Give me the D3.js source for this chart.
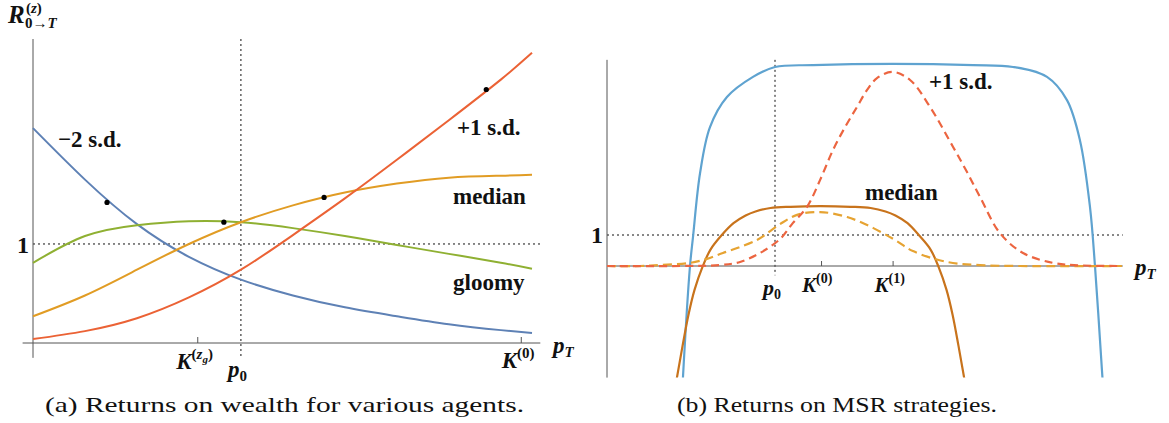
<!DOCTYPE html>
<html><head><meta charset="utf-8">
<script src="https://cdn.jsdelivr.net/npm/d3@7"></script>
<style>
body{margin:0;background:#fff;}
svg{display:block;}
</style></head>
<body>
<svg id="chart" width="1169" height="423"></svg>
<script>
// ---------- Data: panel (a) ----------
const pA = [0, 0.25, 0.5, 0.75, 1.0, 1.25, 1.5, 1.75, 2.0, 2.25, 2.4];
const minus2sd = [2.17, 1.65, 1.20, 0.87, 0.64, 0.48, 0.36, 0.27, 0.19, 0.13, 0.10];
const gloomy   = [0.81, 1.08, 1.19, 1.23, 1.22, 1.16, 1.08, 0.99, 0.90, 0.81, 0.75];
const medianA  = [0.27, 0.48, 0.74, 1.00, 1.22, 1.39, 1.52, 1.61, 1.67, 1.69, 1.70];
const plus1sd  = [0.04, 0.12, 0.25, 0.46, 0.74, 1.09, 1.46, 1.85, 2.25, 2.66, 2.93];
const dotsX = [0.356, 0.918, 1.40, 2.18];
const dotsY = [1.42, 1.22, 1.47, 2.56];
const ticksA = [0.79, 1.0, 2.346];          // K^(zg), p0, K^(0)

// ---------- Data: panel (b) ----------
const blueX  = [0.446, 0.452, 0.494, 0.512, 0.554, 0.613, 0.714, 0.869, 1.0, 1.226, 1.70, 2.18, 2.417, 2.619, 2.738, 2.815, 2.875, 2.905, 2.946, 2.958];
const blueY  = [-4.3, -3.61, 0, 0.94, 3.0, 4.48, 5.45, 6.10, 6.42, 6.48, 6.52, 6.48, 6.42, 6.10, 5.35, 4.06, 1.90, -0.03, -3.35, -4.3];
const brownX = [0.378, 0.414, 0.45, 0.485, 0.521, 0.569, 0.616, 0.682, 0.753, 0.825, 0.884, 0.973, 1.092, 1.271, 1.45, 1.569, 1.658, 1.717, 1.789, 1.857, 1.926, 1.973, 2.021, 2.057, 2.092, 2.128, 2.164];
const brownY = [-4.87, -3.67, -2.57, -1.57, -0.77, -0.02, 0.53, 0.99, 1.38, 1.63, 1.76, 1.87, 1.91, 1.93, 1.91, 1.87, 1.76, 1.63, 1.38, 0.99, 0.53, -0.02, -0.77, -1.57, -2.57, -3.67, -4.87];
const orangeX = [0, 0.196, 0.315, 0.494, 0.595, 0.69, 0.792, 0.893, 0.94, 1.03, 1.131, 1.268, 1.429, 1.583, 1.714, 1.821, 2.024, 2.22, 2.458, 3.065];
const orangeY = [0, 0, 0.03, 0.10, 0.23, 0.42, 0.61, 0.84, 1.0, 1.35, 1.65, 1.74, 1.58, 1.23, 0.84, 0.48, 0.13, 0.03, 0, 0];
const redX = [0, 0.435, 0.673, 0.792, 0.911, 1.03, 1.107, 1.19, 1.268, 1.345, 1.417, 1.488, 1.548, 1.607, 1.70, 1.804, 1.923, 2.06, 2.143, 2.22, 2.339, 2.476, 2.655, 2.815, 3.065];
const redY = [0, 0, 0.03, 0.13, 0.42, 0.87, 1.39, 1.90, 2.77, 3.74, 4.48, 5.13, 5.68, 6.06, 6.26, 6.0, 5.13, 3.84, 3.03, 2.23, 1.06, 0.42, 0.10, 0.02, 0];
const ticksB = [1.0, 1.274, 1.70];          // p0, K^(0), K^(1)

const svg = d3.select("#chart");
const AX = "#555";
const SERIF = "Liberation Serif";

function rich(g, x, y, parts, opts={}) {
  const t = g.append("text").attr("x", x).attr("y", y)
    .style("font-family", SERIF)
    .attr("text-anchor", opts.anchor || "start")
    .attr("font-weight", "bold").attr("fill", "#111");
  let cur = 0;
  parts.forEach(p => {
    t.append("tspan").text(p.t)
      .style("font-family", SERIF)
      .attr("font-size", p.size || 22)
      .attr("font-style", p.italic ? "italic" : "normal")
      .attr("dy", (p.shift || 0) - cur);
    cur = p.shift || 0;
  });
  return t;
}

// ================= Panel (a) =================
const xL = d3.scaleLinear().domain([0, 2.4]).range([33, 532]);
const yL = d3.scaleLinear().domain([0, 3.07]).range([343, 39]);
const gA = svg.append("g");

gA.append("line").attr("x1", xL(0)).attr("x2", xL(2.44)).attr("y1", yL(1)).attr("y2", yL(1))
  .attr("stroke", "#111").attr("stroke-width", 1).attr("stroke-dasharray", "2,3");
gA.append("line").attr("x1", xL(ticksA[1])).attr("x2", xL(ticksA[1])).attr("y1", yL(3.07)).attr("y2", yL(-0.15))
  .attr("stroke", "#111").attr("stroke-width", 1).attr("stroke-dasharray", "2,3");

gA.append("line").attr("x1", xL(-0.05)).attr("x2", xL(2.44)).attr("y1", yL(0)).attr("y2", yL(0)).attr("stroke", AX);
gA.append("line").attr("x1", xL(0)).attr("x2", xL(0)).attr("y1", yL(3.07)).attr("y2", yL(-0.15)).attr("stroke", AX);
const axA = gA.append("g").attr("transform", `translate(0,${yL(0)})`)
  .call(d3.axisBottom(xL).tickValues([ticksA[0], ticksA[2]]).tickSizeInner(-6).tickSizeOuter(0).tickFormat(""));
axA.select(".domain").remove();
axA.selectAll("line").attr("stroke", AX);

const lineA = d3.line().x(d => xL(d[0])).y(d => yL(d[1])).curve(d3.curveNatural);
const seriesA = [
  {v: minus2sd, c: "#5E81B5"},
  {v: gloomy,   c: "#8FB032"},
  {v: medianA,  c: "#E19C24"},
  {v: plus1sd,  c: "#EB6235"}
];
seriesA.forEach(s => {
  gA.append("path").attr("d", lineA(pA.map((p, i) => [p, s.v[i]])))
    .attr("fill", "none").attr("stroke", s.c).attr("stroke-width", 2);
});
gA.selectAll("circle.dot").data(dotsX).join("circle").attr("class", "dot")
  .attr("cx", d => xL(d)).attr("cy", (d, i) => yL(dotsY[i])).attr("r", 2.6).attr("fill", "#000");

rich(gA, 58, 147, [{t: "\u22122 s.d.", size: 23}]);
rich(gA, 457, 135, [{t: "+1 s.d.", size: 23}]);
rich(gA, 453, 204, [{t: "median", size: 23}]);
rich(gA, 453, 290, [{t: "gloomy", size: 23}]);
rich(gA, 17, yL(1) + 9, [{t: "1", size: 24}]);
rich(gA, xL(ticksA[0]) - 21, 369, [{t: "K", size: 23, italic: true}, {t: "(", size: 15, shift: -10}, {t: "z", size: 15, italic: true, shift: -10}, {t: "g", size: 11, italic: true, shift: -6}, {t: ")", size: 15, shift: -10}]);
rich(gA, xL(ticksA[1]) - 13, 377, [{t: "p", size: 23, italic: true}, {t: "0", size: 15, shift: 4}]);
rich(gA, xL(ticksA[2]) - 19, 368, [{t: "K", size: 23, italic: true}, {t: "(0)", size: 15, shift: -10}]);
rich(gA, 553, 353, [{t: "p", size: 23, italic: true}, {t: "T", size: 15, italic: true, shift: 4}]);
rich(gA, 8, 23, [{t: "R", size: 25, italic: true}]);
rich(gA, 26, 13, [{t: "(", size: 15}, {t: "z", size: 15, italic: true}, {t: ")", size: 15}]);
rich(gA, 25, 28, [{t: "0\u2192", size: 15}, {t: "T", size: 15, italic: true}]);

svg.append("text").attr("x", 45).attr("y", 412).attr("font-size", 22).style("font-family", SERIF)
  .attr("textLength", 479).attr("lengthAdjust", "spacingAndGlyphs").attr("fill", "#111")
  .text("(a) Returns on wealth for various agents.");

// ================= Panel (b) =================
const xR = d3.scaleLinear().domain([0, 3.07]).range([607, 607 + 3.07 * 168]);
const yR = d3.scaleLinear().domain([-3.6, 6.65]).range([377.6, 59.85]);
const gB = svg.append("g");
svg.append("defs").append("clipPath").attr("id", "clipB").append("rect")
  .attr("x", 600).attr("y", yR(6.65)).attr("width", 560).attr("height", yR(-3.6) - yR(6.65));

gB.append("line").attr("x1", xR(0)).attr("x2", xR(3.07)).attr("y1", yR(1)).attr("y2", yR(1))
  .attr("stroke", "#111").attr("stroke-width", 1).attr("stroke-dasharray", "2,3");
gB.append("line").attr("x1", xR(ticksB[0])).attr("x2", xR(ticksB[0])).attr("y1", yR(6.65)).attr("y2", yR(-0.3))
  .attr("stroke", "#111").attr("stroke-width", 1).attr("stroke-dasharray", "2,3");
gB.append("line").attr("x1", xR(0)).attr("x2", xR(0)).attr("y1", yR(6.65)).attr("y2", yR(-3.6)).attr("stroke", AX);
gB.append("line").attr("x1", xR(0)).attr("x2", xR(3.07)).attr("y1", yR(0)).attr("y2", yR(0)).attr("stroke", AX);
const axB = gB.append("g").attr("transform", `translate(0,${yR(0)})`)
  .call(d3.axisBottom(xR).tickValues([ticksB[1], ticksB[2]]).tickSizeInner(-5).tickSizeOuter(0).tickFormat(""));
axB.select(".domain").remove();
axB.selectAll("line").attr("stroke", AX);

const lineB = d3.line().x(d => xR(d[0])).y(d => yR(d[1])).curve(d3.curveCatmullRom.alpha(0.5));
const curvesB = gB.append("g").attr("clip-path", "url(#clipB)");
const seriesB = [
  {x: blueX, y: blueY, c: "#5FA3D0", dash: null},
  {x: brownX, y: brownY, c: "#C8731C", dash: null},
  {x: orangeX, y: orangeY, c: "#E6A332", dash: "9,5"},
  {x: redX, y: redY, c: "#EC6540", dash: "8,5"}
];
seriesB.forEach(s => {
  curvesB.append("path").attr("d", lineB(s.x.map((p, i) => [p, s.y[i]])))
    .attr("fill", "none").attr("stroke", s.c).attr("stroke-width", 2.2)
    .attr("stroke-dasharray", s.dash);
});

rich(gB, 929, 89, [{t: "+1 s.d.", size: 23}]);
rich(gB, 865, 200, [{t: "median", size: 23}]);
rich(gB, 591, yR(1) + 8, [{t: "1", size: 24}]);
rich(gB, xR(ticksB[0]) - 12, 295, [{t: "p", size: 22, italic: true}, {t: "0", size: 14, shift: 4}]);
rich(gB, xR(ticksB[1]) - 19, 292, [{t: "K", size: 21, italic: true}, {t: "(0)", size: 14, shift: -9}]);
rich(gB, xR(ticksB[2]) - 18, 292, [{t: "K", size: 21, italic: true}, {t: "(1)", size: 14, shift: -9}]);
rich(gB, 1135, 275, [{t: "p", size: 23, italic: true}, {t: "T", size: 15, italic: true, shift: 4}]);

svg.append("text").attr("x", 677).attr("y", 412).attr("font-size", 22).style("font-family", SERIF)
  .attr("textLength", 320).attr("lengthAdjust", "spacingAndGlyphs").attr("fill", "#111")
  .text("(b) Returns on MSR strategies.");
</script>
</body></html>
